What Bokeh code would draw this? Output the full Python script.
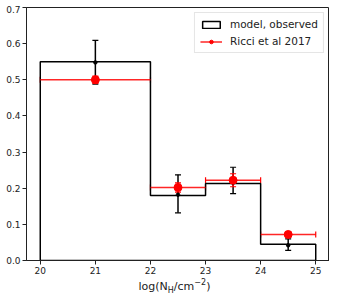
from bokeh.plotting import figure
from bokeh.layouts import column
from bokeh.models import (ColumnDataSource, Whisker, Legend, LegendItem, Div,
                          Range1d, FixedTicker, TeeHead)
from bokeh.embed import file_html
from bokeh.resources import INLINE

# ---- data ----
bin_edges = [20, 22, 23, 24, 25]
model_frac = [0.55, 0.18, 0.213, 0.045]
model_dot = [0.548, 0.182, 0.215, 0.042]
model_err_lo = [0.06, 0.05, 0.03, 0.014]
model_err_hi = [0.061, 0.055, 0.043, 0.018]
ricci_frac = [0.50, 0.202, 0.222, 0.072]
ricci_err = [0.01, 0.013, 0.018, 0.007]
x_ticks = [20, 21, 22, 23, 24, 25]
y_ticks = [0.0, 0.1, 0.2, 0.3, 0.4, 0.5, 0.6, 0.7]

FONT = "DejaVu Sans"
INK = "#222222"

centers = [(a + b) / 2 for a, b in zip(bin_edges[:-1], bin_edges[1:])]

# step outline (closed along the baseline, which coincides with the x axis)
step_x = [bin_edges[0]]
step_y = [0]
for i, v in enumerate(model_frac):
    step_x += [bin_edges[i], bin_edges[i + 1]]
    step_y += [v, v]
step_x.append(bin_edges[-1])
step_y.append(0)

p = figure(frame_width=303, frame_height=253, output_backend="svg", toolbar_location=None,
           x_range=Range1d(19.75, 25.25), y_range=Range1d(0, 0.7),
           min_border_left=20, min_border_right=0, min_border_top=2,
           min_border_bottom=17, margin=(0, 0, 0, 0))
p.background_fill_color = "white"
p.border_fill_color = "white"
p.grid.visible = False
p.outline_line_color = INK
p.outline_line_width = 1

for ax in (p.xaxis[0], p.yaxis[0]):
    ax.axis_line_color = INK
    ax.major_tick_line_color = INK
    ax.major_tick_out = 4
    ax.major_tick_in = 0
    ax.minor_tick_line_color = None
    ax.major_label_text_font = FONT
    ax.major_label_text_font_size = "9px"
    ax.major_label_text_color = INK
    ax.major_label_standoff = 2
p.xaxis.ticker = FixedTicker(ticks=x_ticks)
p.yaxis.ticker = FixedTicker(ticks=y_ticks)
p.yaxis.major_label_overrides = {t: f"{t:.1f}" for t in y_ticks}
p.xaxis.major_label_overrides = {t: str(t) for t in x_ticks}

# histogram outline
hist = p.patch(step_x, step_y, fill_color=None, line_color="black", line_width=1.5)

# model error bars
msrc = ColumnDataSource(dict(
    x=centers, y=model_dot,
    lo=[v - e for v, e in zip(model_dot, model_err_lo)],
    hi=[v + e for v, e in zip(model_dot, model_err_hi)]))
p.add_layout(Whisker(source=msrc, base="x", lower="lo", upper="hi",
                     dimension="height", line_color="black", line_width=1.5,
                     upper_head=TeeHead(size=6, line_color="black", line_width=1.2),
                     lower_head=TeeHead(size=6, line_color="black", line_width=1.2)))
p.scatter("x", "y", source=msrc, size=3.5, color="black")

# Ricci error bars
rsrc = ColumnDataSource(dict(
    x=centers, y=ricci_frac,
    xl=bin_edges[:-1], xr=bin_edges[1:],
    lo=[v - e for v, e in zip(ricci_frac, ricci_err)],
    hi=[v + e for v, e in zip(ricci_frac, ricci_err)]))
r_h = p.segment("xl", "y", "xr", "y", source=rsrc, line_color="red", line_width=1.5,
                line_alpha=0.85)
p.add_layout(Whisker(source=rsrc, base="y", lower="xl", upper="xr",
                     dimension="width", line_alpha=0,
                     upper_head=TeeHead(size=6, line_color="red", line_width=1.2),
                     lower_head=TeeHead(size=6, line_color="red", line_width=1.2)))
p.add_layout(Whisker(source=rsrc, base="x", lower="lo", upper="hi",
                     dimension="height", line_color="red", line_width=1.5,
                     upper_head=TeeHead(size=6, line_color="red", line_width=1.2),
                     lower_head=TeeHead(size=6, line_color="red", line_width=1.2)))
r_dot = p.scatter("x", "y", source=rsrc, size=8, color="red")

legend = Legend(items=[LegendItem(label="model, observed", renderers=[hist]),
                       LegendItem(label="Ricci et al 2017", renderers=[r_h, r_dot])],
                location="top_right")
legend.label_text_font = FONT
legend.label_text_font_size = "10.5px"
legend.label_text_color = INK
legend.border_line_color = "#cccccc"
legend.border_line_width = 1
legend.margin = 5
legend.padding = 5
legend.spacing = 5
legend.glyph_width = 22
legend.glyph_height = 9
legend.label_height = 12
legend.label_standoff = 8
p.add_layout(legend)

# x-axis label with sub/superscripts
xlabel = Div(
    text=('<div style="width:323px;text-align:center;padding-left:20px;padding-top:3px;'
          'box-sizing:border-box;'
          'font-family:\'DejaVu Sans\';font-size:11px;color:#222222;line-height:14px;">'
          'log(N<sub style="font-size:8px;line-height:0;">H</sub>/cm'
          '<sup style="font-size:8px;line-height:0;">\u22122</sup>)</div>'),
    width=323, height=16, margin=(0, 0, 0, 0))

layout = column(p, xlabel, spacing=0, margin=(5, 0, 0, 3))
open("out.html", "w").write(file_html(layout, INLINE))
